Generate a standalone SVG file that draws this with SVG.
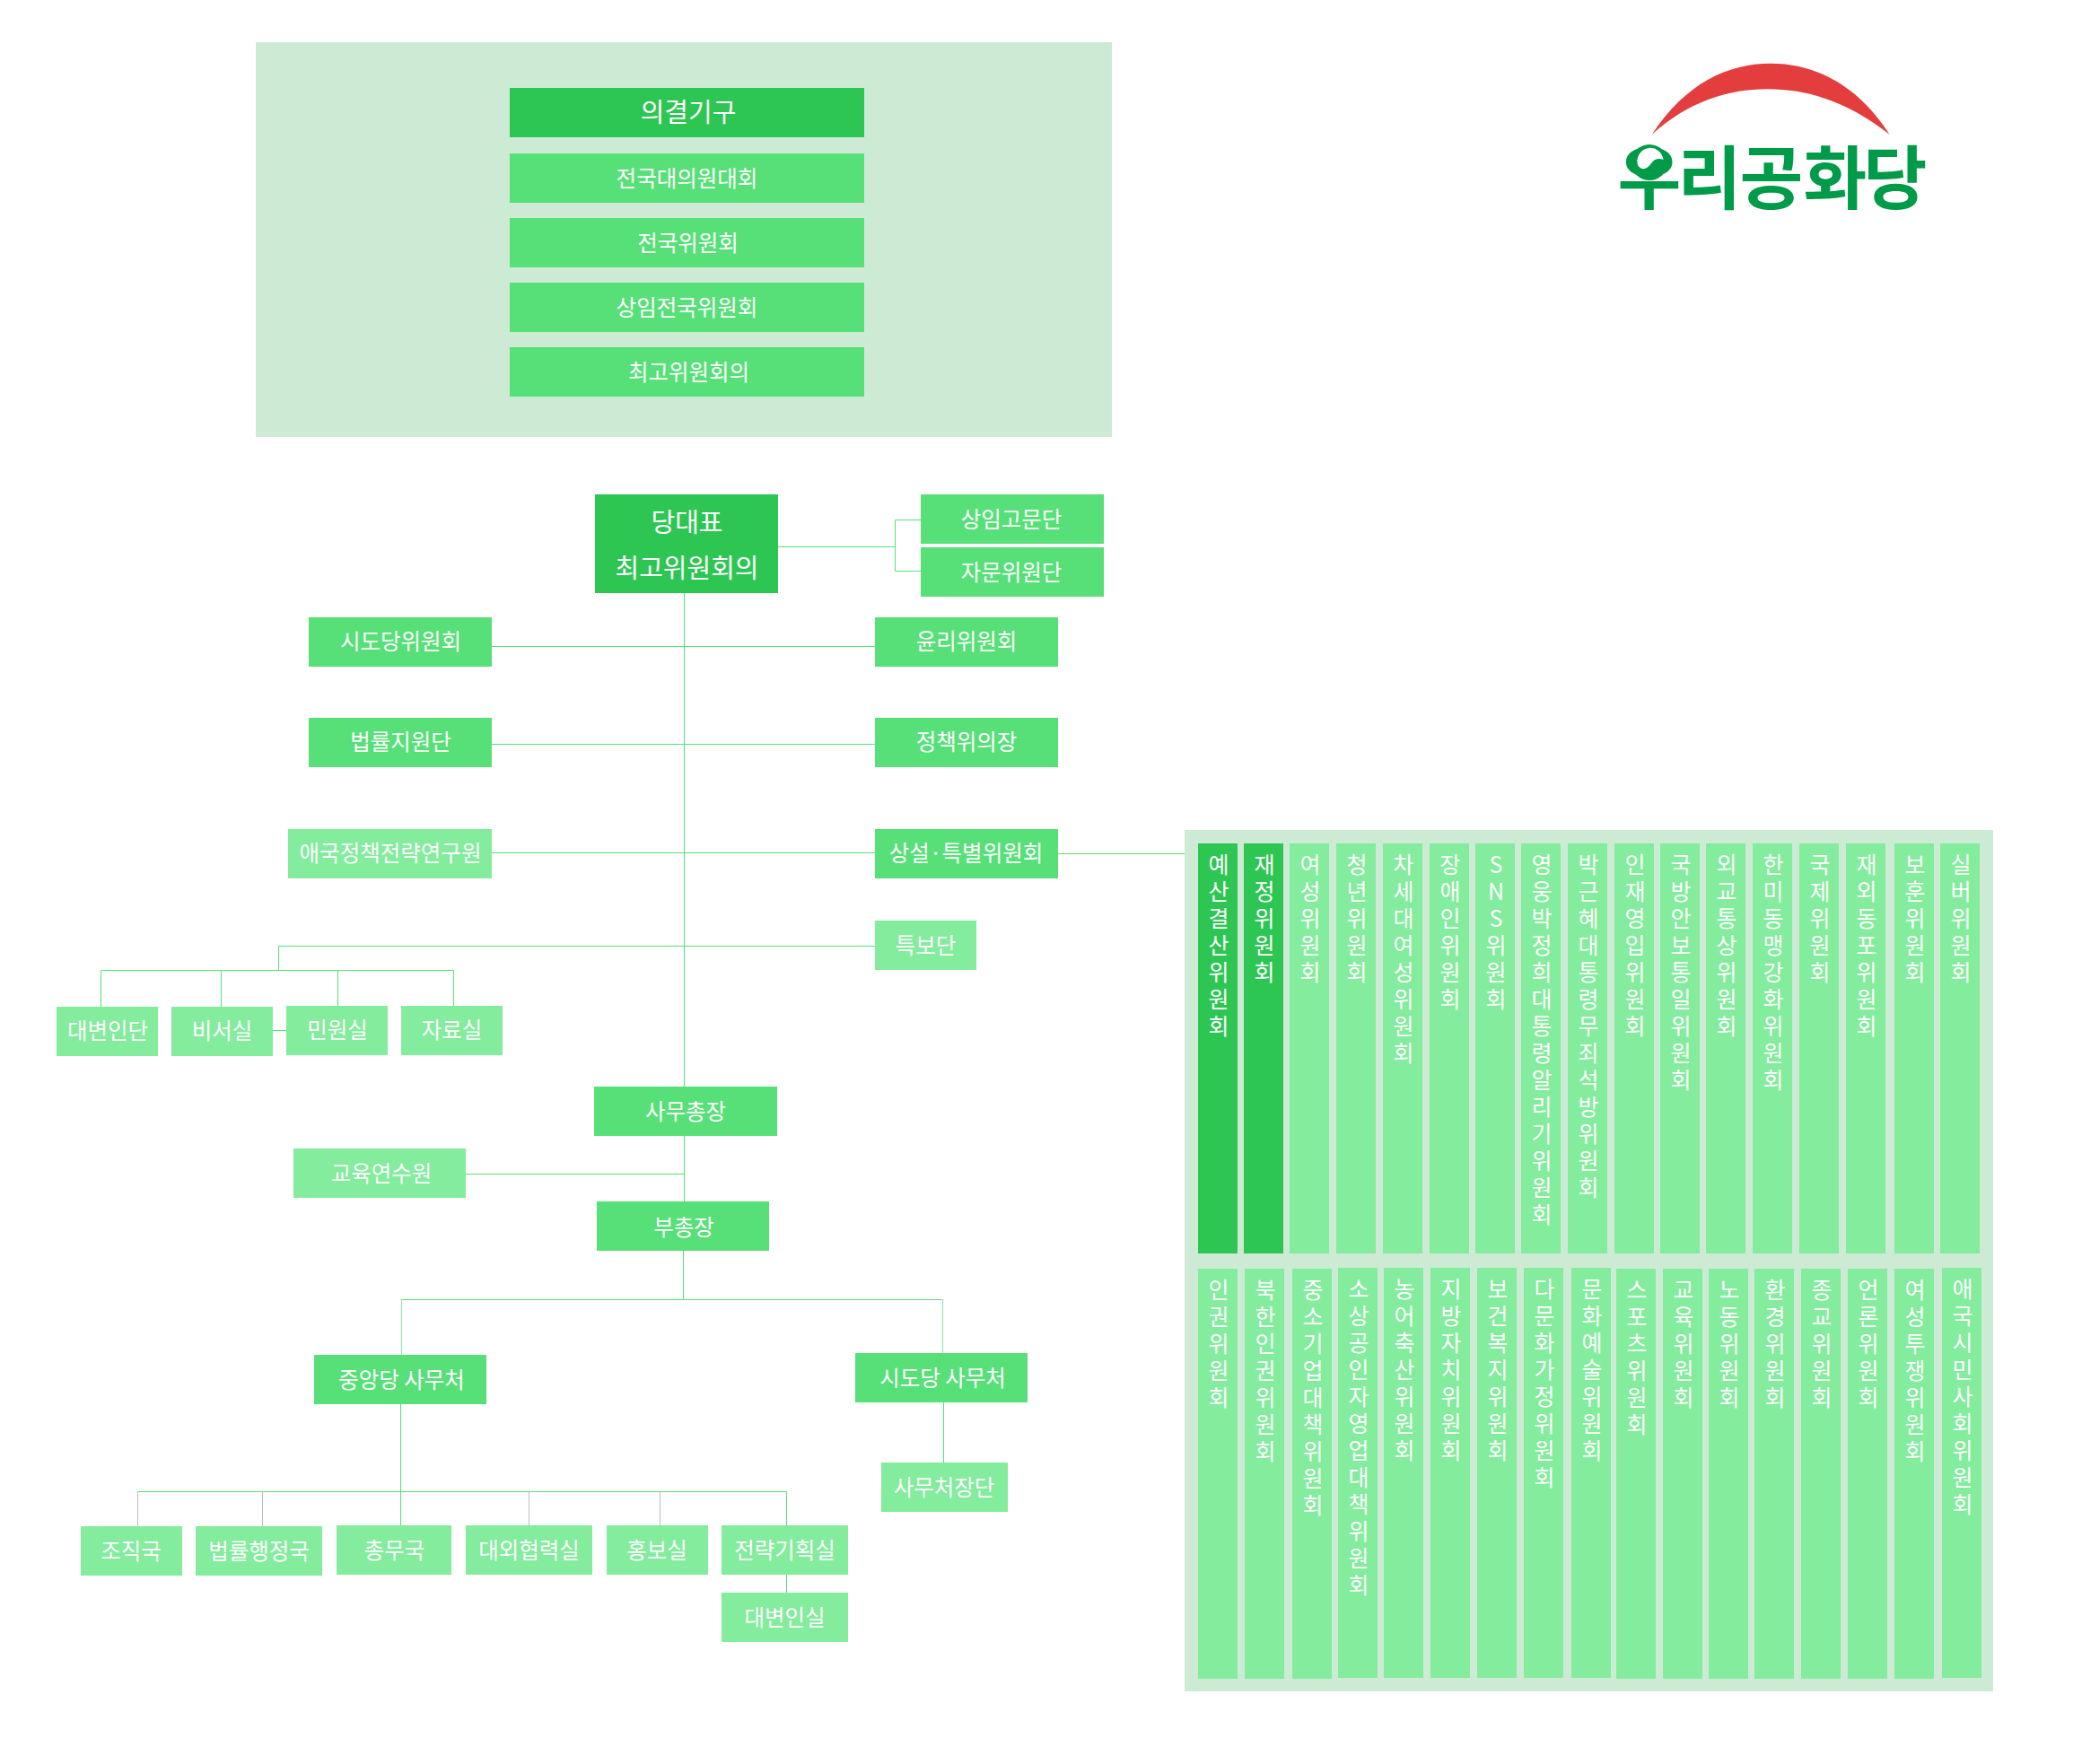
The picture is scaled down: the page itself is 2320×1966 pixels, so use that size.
<svg xmlns="http://www.w3.org/2000/svg" width="2320" height="1966" viewBox="0 0 2320 1966">
<style>
text{font-family:"Noto Sans CJK KR","Noto Sans",sans-serif;fill:#fff;font-size:24.5px;text-anchor:middle;dominant-baseline:central}
.big{font-size:29px}
.v{font-size:25px;writing-mode:vertical-rl;text-orientation:upright;letter-spacing:5px;text-anchor:start;dominant-baseline:auto}
.panel{fill:#cdead5}
.d{fill:#2dc653}
.m{fill:#57e078}
.l{fill:#83ec9d}
.c{fill:none;stroke:#57e078;stroke-width:1}
.t{fill:none;stroke:#83ec9d;stroke-width:1}
.g{fill:none;stroke:#bdbdbd;stroke-width:1}
</style>
<rect class="panel" x="285" y="47" width="954" height="440"/>
<rect class="panel" x="1320" y="925" width="901" height="960"/>
<g id="connectors">
<path class="c" d="M762.500 660V1211M762.500 1266V1339M761.500 1394V1448"/>
<path class="c" d="M867 609.500H997.500M1026 579.500H997.500V636.500H1026"/>
<path class="c" d="M548 720.500H975M548 829.500H975M548 950.500H975M1179 951.500H1320"/>
<path class="c" d="M975 1054.500H310.500V1081.500M112.500 1122V1081.500H505.500V1121M246.500 1081.500V1122M376.500 1081.500V1121M304 1148.500H319"/>
<path class="c" d="M519 1308.500H762"/>
<path class="c" d="M447 1448.500H1050"/>
<path class="t" d="M447.500 1448.500V1510M1050.500 1448.500V1508"/>
<path class="c" d="M1051.500 1563V1630M446.500 1565V1700M153 1662.500H876.500V1700M876.500 1755V1775"/>
<path class="g" d="M153.500 1662.500V1701M292.500 1662.500V1701M589.500 1662.500V1700M735.500 1662.500V1700"/>
</g>
<g id="logo">
<path d="M1840.700 150C1878 93 1925 70.700 1973 70.700C2025 70.700 2072 97 2105.700 150C2060 114 2015 99.300 1970 99.300C1925 99.300 1880 114 1840.700 150Z" fill="#e43d3e"/>
<text x="1838 1905 1974 2045 2112" y="193" style="fill:#009b48;font-size:77px;font-weight:700">우리공화당</text>
<circle cx="1838" cy="181" r="20" fill="#009b48"/>
<path d="M1824.500 182A13.500 14 0 0 1 1853.500 178C1848 175.500 1843 177.500 1840 182C1837 187 1832 189.500 1828.500 187.500C1826 186 1825 184.500 1824.500 182Z" fill="#fff"/>
</g>
<g id="n-decision"><rect class="d" x="568" y="98" width="395" height="55"/><text class="big" x="767" y="123">의결기구</text></g>
<g id="n-convention"><rect class="m" x="568" y="171" width="395" height="55"/><text x="765.500" y="197">전국대의원대회</text></g>
<g id="n-national"><rect class="m" x="568" y="243" width="395" height="55"/><text x="766.500" y="269">전국위원회</text></g>
<g id="n-standing"><rect class="m" x="568" y="315" width="395" height="55"/><text x="765.500" y="341">상임전국위원회</text></g>
<g id="n-supreme"><rect class="m" x="568" y="387" width="395" height="55"/><text x="767.500" y="413">최고위원회의</text></g>
<g id="n-leader"><rect class="d" x="663" y="551" width="204" height="110"/><text class="big" x="765.500" y="580">당대표</text><text class="big" x="765.500" y="630.500">최고위원회의</text></g>
<g id="n-advisors"><rect class="m" x="1026" y="551" width="204" height="55"/><text x="1127" y="577.500">상임고문단</text></g>
<g id="n-consult"><rect class="m" x="1026" y="610" width="204" height="55"/><text x="1127" y="636.500">자문위원단</text></g>
<g id="n-ethics"><rect class="m" x="975" y="688" width="204" height="55"/><text x="1077" y="713.500">윤리위원회</text></g>
<g id="n-policy"><rect class="m" x="975" y="800" width="204" height="55"/><text x="1077" y="825.500">정책위의장</text></g>
<g id="n-special"><rect class="m" x="975" y="924" width="204" height="55"/><text x="1076.500" y="949.500">상설·특별위원회</text></g>
<g id="n-envoy"><rect class="l" x="975" y="1026" width="113" height="55"/><text x="1031.500" y="1052">특보단</text></g>
<g id="n-province"><rect class="m" x="344" y="688" width="204" height="55"/><text x="446.500" y="713.500">시도당위원회</text></g>
<g id="n-legal"><rect class="m" x="344" y="800" width="204" height="55"/><text x="446.500" y="825.500">법률지원단</text></g>
<g id="n-institute"><rect class="l" x="321" y="924" width="227" height="55"/><text x="435" y="949.500">애국정책전략연구원</text></g>
<g id="n-spokes"><rect class="l" x="63" y="1122" width="113" height="55"/><text x="120" y="1147.500">대변인단</text></g>
<g id="n-secretary"><rect class="l" x="191" y="1122" width="113" height="55"/><text x="247.500" y="1147.500">비서실</text></g>
<g id="n-petition"><rect class="l" x="319" y="1121" width="113" height="55"/><text x="376" y="1146.500">민원실</text></g>
<g id="n-archive"><rect class="l" x="447" y="1121" width="113" height="55"/><text x="503.500" y="1146.500">자료실</text></g>
<g id="n-secgen"><rect class="m" x="662" y="1211" width="204" height="55"/><text x="764" y="1237">사무총장</text></g>
<g id="n-training"><rect class="l" x="327" y="1280" width="192" height="55"/><text x="425" y="1306">교육연수원</text></g>
<g id="n-deputy"><rect class="m" x="665" y="1339" width="192" height="55"/><text x="762" y="1366">부총장</text></g>
<g id="n-central"><rect class="m" x="350" y="1510" width="192" height="55"/><text x="447.500" y="1536">중앙당 사무처</text></g>
<g id="n-provoffice"><rect class="m" x="953" y="1508" width="192" height="55"/><text x="1050.500" y="1534">시도당 사무처</text></g>
<g id="n-directors"><rect class="l" x="982" y="1630" width="141" height="55"/><text x="1052" y="1656">사무처장단</text></g>
<g id="n-org"><rect class="l" x="90" y="1701" width="113" height="55"/><text x="146" y="1727">조직국</text></g>
<g id="n-legaladmin"><rect class="l" x="218" y="1701" width="141" height="55"/><text x="288.500" y="1727">법률행정국</text></g>
<g id="n-general"><rect class="l" x="375" y="1700" width="128" height="55"/><text x="439.500" y="1726">총무국</text></g>
<g id="n-external"><rect class="l" x="519" y="1700" width="141" height="55"/><text x="589.500" y="1726">대외협력실</text></g>
<g id="n-pr"><rect class="l" x="676" y="1700" width="113" height="55"/><text x="732" y="1726">홍보실</text></g>
<g id="n-strategy"><rect class="l" x="804" y="1700" width="141" height="55"/><text x="874.500" y="1726">전략기획실</text></g>
<g id="n-spokesroom"><rect class="l" x="804" y="1775" width="141" height="55"/><text x="874.500" y="1801">대변인실</text></g>
<g id="c1"><rect class="d" x="1335" y="940" width="44" height="457"/><text class="v" x="1358" y="951">예산결산위원회</text></g>
<g id="c2"><rect class="d" x="1386" y="940" width="44" height="457"/><text class="v" x="1409" y="951">재정위원회</text></g>
<g id="c3"><rect class="l" x="1437" y="940" width="44" height="457"/><text class="v" x="1460" y="951">여성위원회</text></g>
<g id="c4"><rect class="l" x="1489" y="940" width="44" height="457"/><text class="v" x="1512" y="951">청년위원회</text></g>
<g id="c5"><rect class="l" x="1541" y="940" width="44" height="457"/><text class="v" x="1564" y="951">차세대여성위원회</text></g>
<g id="c6"><rect class="l" x="1593" y="940" width="44" height="457"/><text class="v" x="1616" y="951">장애인위원회</text></g>
<g id="c7"><rect class="l" x="1644" y="940" width="44" height="457"/><text class="v" x="1667" y="951">SNS위원회</text></g>
<g id="c8"><rect class="l" x="1695" y="940" width="44" height="457"/><text class="v" x="1718" y="951">영웅박정희대통령알리기위원회</text></g>
<g id="c9"><rect class="l" x="1747" y="940" width="44" height="457"/><text class="v" x="1770" y="951">박근혜대통령무죄석방위원회</text></g>
<g id="c10"><rect class="l" x="1799" y="940" width="44" height="457"/><text class="v" x="1822" y="951">인재영입위원회</text></g>
<g id="c11"><rect class="l" x="1850" y="940" width="44" height="457"/><text class="v" x="1873" y="951">국방안보통일위원회</text></g>
<g id="c12"><rect class="l" x="1901" y="940" width="44" height="457"/><text class="v" x="1924" y="951">외교통상위원회</text></g>
<g id="c13"><rect class="l" x="1953" y="940" width="44" height="457"/><text class="v" x="1976" y="951">한미동맹강화위원회</text></g>
<g id="c14"><rect class="l" x="2005" y="940" width="44" height="457"/><text class="v" x="2028" y="951">국제위원회</text></g>
<g id="c15"><rect class="l" x="2057" y="940" width="44" height="457"/><text class="v" x="2080" y="951">재외동포위원회</text></g>
<g id="c16"><rect class="l" x="2111" y="940" width="44" height="457"/><text class="v" x="2134" y="951">보훈위원회</text></g>
<g id="c17"><rect class="l" x="2162" y="940" width="44" height="457"/><text class="v" x="2185" y="951">실버위원회</text></g>
<g id="b1"><rect class="l" x="1335" y="1414" width="44" height="457"/><text class="v" x="1358" y="1425">인권위원회</text></g>
<g id="b2"><rect class="l" x="1387" y="1414" width="44" height="457"/><text class="v" x="1410" y="1425">북한인권위원회</text></g>
<g id="b3"><rect class="l" x="1440" y="1414" width="44" height="457"/><text class="v" x="1463" y="1425">중소기업대책위원회</text></g>
<g id="b4"><rect class="l" x="1491" y="1413" width="44" height="457"/><text class="v" x="1514" y="1424">소상공인자영업대책위원회</text></g>
<g id="b5"><rect class="l" x="1542" y="1413" width="44" height="457"/><text class="v" x="1565" y="1424">농어축산위원회</text></g>
<g id="b6"><rect class="l" x="1594" y="1413" width="44" height="457"/><text class="v" x="1617" y="1424">지방자치위원회</text></g>
<g id="b7"><rect class="l" x="1646" y="1413" width="44" height="457"/><text class="v" x="1669" y="1424">보건복지위원회</text></g>
<g id="b8"><rect class="l" x="1698" y="1413" width="44" height="457"/><text class="v" x="1721" y="1424">다문화가정위원회</text></g>
<g id="b9"><rect class="l" x="1751" y="1413" width="44" height="457"/><text class="v" x="1774" y="1424">문화예술위원회</text></g>
<g id="b10"><rect class="l" x="1801" y="1414" width="44" height="457"/><text class="v" x="1824" y="1425">스포츠위원회</text></g>
<g id="b11"><rect class="l" x="1853" y="1414" width="44" height="457"/><text class="v" x="1876" y="1425">교육위원회</text></g>
<g id="b12"><rect class="l" x="1904" y="1414" width="44" height="457"/><text class="v" x="1927" y="1425">노동위원회</text></g>
<g id="b13"><rect class="l" x="1955" y="1414" width="44" height="457"/><text class="v" x="1978" y="1425">환경위원회</text></g>
<g id="b14"><rect class="l" x="2007" y="1414" width="44" height="457"/><text class="v" x="2030" y="1425">종교위원회</text></g>
<g id="b15"><rect class="l" x="2059" y="1414" width="44" height="457"/><text class="v" x="2082" y="1425">언론위원회</text></g>
<g id="b16"><rect class="l" x="2111" y="1414" width="44" height="457"/><text class="v" x="2134" y="1425">여성투쟁위원회</text></g>
<g id="b17"><rect class="l" x="2164" y="1413" width="44" height="457"/><text class="v" x="2187" y="1424">애국시민사회위원회</text></g>
</svg>
